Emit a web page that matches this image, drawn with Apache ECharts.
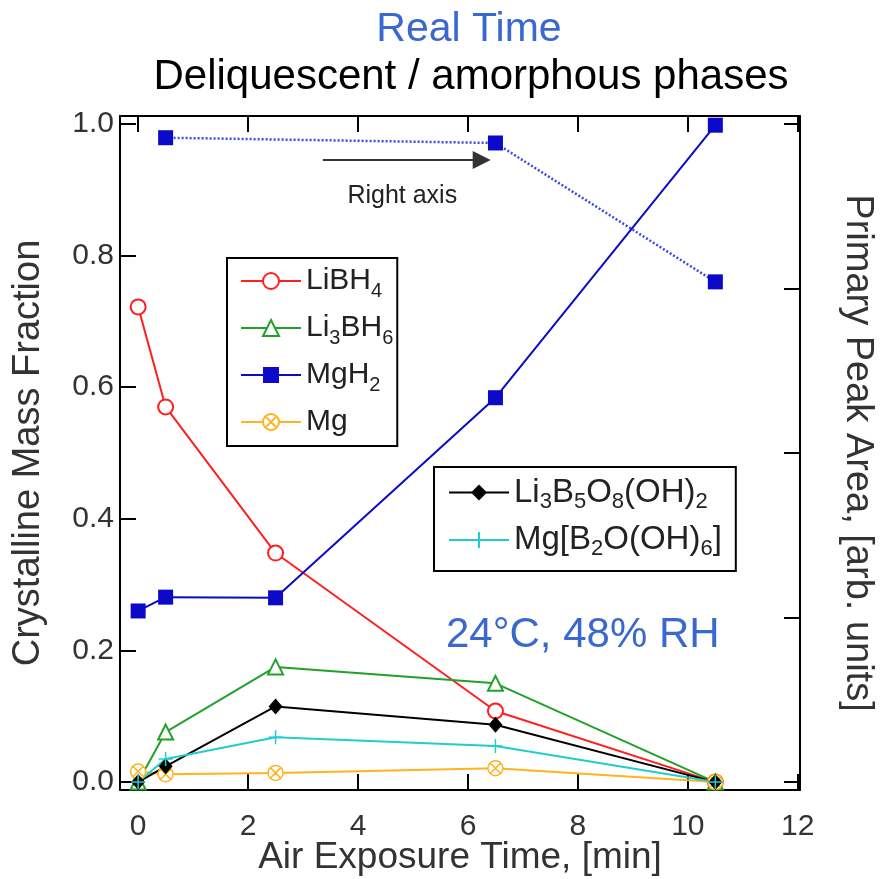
<!DOCTYPE html>
<html>
<head>
<meta charset="utf-8">
<script src="https://cdn.jsdelivr.net/npm/echarts@6/dist/echarts.min.js"></script>
<style>
  html, body { margin: 0; padding: 0; background: #fff; }
  #chart { width: 880px; height: 879px; }
</style>
</head>
<body>
<div id="chart"></div>
<script>
// sampling times, min
const times = [0, 0.5, 2.5, 6.5, 10.5]
// crystalline mass fractions (left axis)
const libh4 = [0.722, 0.570, 0.348, 0.108, 0.0]
const li3bh6 = [0.0, 0.076, 0.175, 0.150, 0.0]
const mgh2 = [0.260, 0.281, 0.280, 0.584, 0.998]
const mg = [0.016, 0.012, 0.014, 0.021, 0.0]
const li3b5o8 = [0.0, 0.024, 0.115, 0.087, 0.0]
const mgb2o = [0.0, 0.035, 0.068, 0.055, 0.0]
// primary peak area (right axis)
const peakTimes = [0.5, 6.5, 10.5]
const peakArea = [0.979, 0.971, 0.760]

const xTicks = [0, 2, 4, 6, 8, 10, 12]
const yTicks = [0, 0.2, 0.4, 0.6, 0.8, 1.0]
const rightTicks = [0, 0.25, 0.5, 0.75, 1.0]

const font = 'Liberation Sans, Arial, sans-serif'
const pairs = (ys, xs = times) => xs.map((x, i) => [x, ys[i]])

const legendText = {
  'LiBH4': '{n|LiBH}{s|4}',
  'Li3BH6': '{n|Li}{s|3}{n|BH}{s|6}',
  'MgH2': '{n|MgH}{s|2}',
  'Mg': '{n|Mg}',
  'Li3B5O8(OH)2': '{n|Li}{s|3}{n|B}{s|5}{n|O}{s|8}{n|(OH)}{s|2}',
  'Mg[B2O(OH)6]': '{n|Mg[B}{s|2}{n|O(OH)}{s|6}{n|]}'
}
const richText = (big, small) => ({
  n: { fontSize: big, lineHeight: 40, fontFamily: font, color: '#222' },
  s: { fontSize: small, lineHeight: 14, verticalAlign: 'bottom', fontFamily: font, color: '#222' }
})

const frameAxis = {
  axisLine: { show: true, onZero: false, lineStyle: { color: '#000', width: 2 } },
  splitLine: { show: false }
}

const myChart = echarts.init(document.getElementById('chart'))
const option = {
  animation: false,
  backgroundColor: '#fff',
  textStyle: { fontFamily: font },
  title: [
    {
      text: 'Real Time', left: 464, textAlign: 'center', top: 4,
      textStyle: { fontSize: 41, fontWeight: 'normal', color: '#3b68cf', fontFamily: font }
    },
    {
      text: 'Deliquescent / amorphous phases', left: 466, textAlign: 'center', top: 51,
      textStyle: { fontSize: 42, fontWeight: 'normal', color: '#000', fontFamily: font }
    }
  ],
  grid: { left: 120, right: 80, top: 116, bottom: 89, containLabel: false, outerBoundsMode: 'none' },
  legend: [
    {
      data: ['LiBH4', 'Li3BH6', 'MgH2', 'Mg'],
      orient: 'vertical', left: 227, top: 258,
      itemWidth: 60, itemHeight: 20, itemGap: 12,
      padding: [8, 4, 9, 13],
      borderColor: '#000', borderWidth: 2,
      formatter: n => legendText[n],
      textStyle: { rich: richText(30, 20) }
    },
    {
      data: ['Li3B5O8(OH)2', 'Mg[B2O(OH)6]'],
      orient: 'vertical', left: 434, top: 467,
      itemWidth: 60, itemHeight: 20, itemGap: 11,
      padding: [9, 14, 11, 14],
      borderColor: '#000', borderWidth: 2,
      formatter: n => legendText[n],
      textStyle: { rich: richText(33, 22) }
    }
  ],
  xAxis: [
    {
      type: 'value', min: -0.33, max: 12.04, position: 'bottom',
      ...frameAxis,
      axisTick: { inside: true, length: 16, customValues: xTicks, lineStyle: { color: '#000', width: 2 } },
      axisLabel: { customValues: xTicks, fontSize: 30, color: '#333', margin: 22 },
      name: 'Air Exposure Time, [min]', nameLocation: 'middle', nameGap: 49, nameMoveOverlap: false,
      nameTextStyle: { fontSize: 37, color: '#333' }
    },
    {
      type: 'value', min: -0.33, max: 12.04, position: 'top',
      ...frameAxis,
      axisTick: { inside: true, length: 16, customValues: xTicks, lineStyle: { color: '#000', width: 2 } },
      axisLabel: { show: false }
    }
  ],
  yAxis: [
    {
      type: 'value', min: -0.012, max: 1.012, position: 'left',
      ...frameAxis,
      axisTick: { inside: true, length: 16, customValues: yTicks, lineStyle: { color: '#000', width: 2 } },
      axisLabel: { customValues: yTicks, formatter: v => v.toFixed(1), fontSize: 30, color: '#333', margin: 6 },
      name: 'Crystalline Mass Fraction', nameLocation: 'middle', nameGap: 72,
      nameTextStyle: { fontSize: 38, color: '#333' }
    },
    {
      type: 'value', min: -0.012, max: 1.012, position: 'right',
      ...frameAxis,
      axisTick: { inside: true, length: 16, customValues: rightTicks, lineStyle: { color: '#000', width: 2 } },
      axisLabel: { show: false },
      name: 'Primary Peak Area, [arb. units]', nameLocation: 'middle', nameGap: 38, nameRotate: -90,
      nameTextStyle: { fontSize: 38, color: '#333' }
    }
  ],
  graphic: [
    {
      type: 'text', left: 446, top: 614,
      style: { text: '24\u00B0C, 48% RH', font: '42px ' + font, fill: '#3b68cf' }
    }
  ],
  series: [
    {
      name: 'Primary peak area', type: 'line', yAxisIndex: 1,
      data: pairs(peakArea, peakTimes),
      symbol: 'rect', symbolSize: 15, color: '#0a0ac8',
      lineStyle: { color: '#3a4be0', width: 2.5, type: [2, 2] },
      markLine: {
        silent: true, symbol: ['none', 'triangle'], symbolSize: 18,
        lineStyle: { color: '#333', width: 2, type: 'solid' },
        label: { show: true, position: 'insideMiddleBottom', formatter: 'Right axis', fontSize: 25, color: '#222', distance: 24 },
        data: [[{ coord: [3.36, 0.945] }, { coord: [6.25, 0.945] }]]
      }
    },
    {
      name: 'LiBH4', type: 'line', data: pairs(libh4),
      symbol: 'emptyCircle', symbolSize: 15, color: '#ff1f1f',
      lineStyle: { width: 2 }, itemStyle: { borderWidth: 1.5 }
    },
    {
      name: 'Li3BH6', type: 'line', data: pairs(li3bh6),
      symbol: 'emptyTriangle', symbolSize: 15, color: '#22a12a',
      lineStyle: { width: 2 }, itemStyle: { borderWidth: 1.5 }
    },
    {
      name: 'MgH2', type: 'line', data: pairs(mgh2),
      symbol: 'rect', symbolSize: 15, color: '#0a0ac8',
      lineStyle: { width: 2 }
    },
    {
      name: 'Mg', type: 'line', data: pairs(mg),
      symbol: 'path://M0,10A10,10 0 1,1 20,10A10,10 0 1,1 0,10ZM3,3L17,17M17,3L3,17',
      symbolSize: 15, color: '#ffb320',
      lineStyle: { color: '#ffb320', width: 2 },
      itemStyle: { color: '#fff', borderColor: '#ffb320', borderWidth: 1.5 }
    },
    {
      name: 'Li3B5O8(OH)2', type: 'line', data: pairs(li3b5o8),
      symbol: 'diamond', symbolSize: [14, 16], color: '#000',
      lineStyle: { width: 2 }
    },
    {
      name: 'Mg[B2O(OH)6]', type: 'line', data: pairs(mgb2o),
      symbol: 'path://M0,7L14,7M7,0L7,14', symbolSize: 14, color: '#22cccc',
      lineStyle: { width: 2 },
      itemStyle: { borderColor: '#22cccc', borderWidth: 1.5 }
    }
  ]
}
myChart.setOption(option)
</script>
</body>
</html>
